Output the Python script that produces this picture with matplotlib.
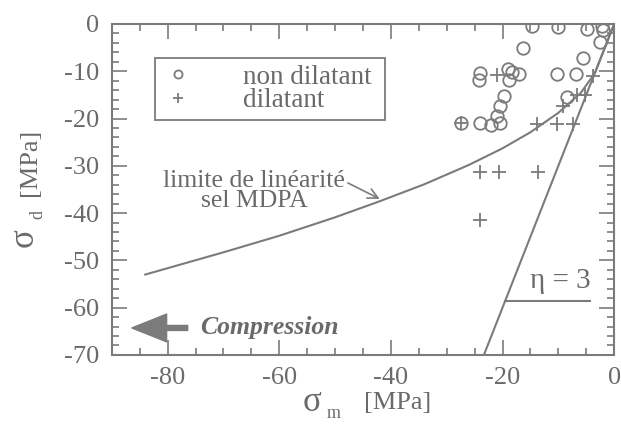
import matplotlib
matplotlib.use("Agg")
import matplotlib.pyplot as plt
import numpy as np
from matplotlib.ticker import MultipleLocator

plt.rcParams['font.family'] = ['Liberation Serif', 'DejaVu Serif']
plt.rcParams['axes.unicode_minus'] = False

gray = '#7b7b7b'
tgray = '#6a6a6a'

# non dilatant (circles)
nd_sm = [-14.7, -10.0, -4.9, -2.2, -2.0, -2.5, -16.4, -5.6, -24.0, -24.3, -19.1, -18.3,
         -17.0, -18.8, -10.2, -6.9, -8.4, -19.7, -20.4, -21.0, -24.1, -22.1, -20.4, -27.5]
nd_sd = [-0.4, -0.7, -1.0, -0.4, -1.3, -3.9, -5.1, -7.2, -10.4, -11.8, -9.6, -10.1,
         -10.5, -11.8, -10.5, -10.5, -15.5, -15.3, -17.4, -19.4, -21.0, -21.3, -21.0, -21.0]

# dilatant (plus)
d_sm = [-21.0, -3.8, -6.7, -5.2, -9.1, -13.9, -10.3, -7.3, -27.5, -24.0, -20.7, -13.7, -24.0]
d_sd = [-10.8, -11.0, -15.0, -15.0, -17.4, -21.1, -21.1, -21.1, -21.0, -31.4, -31.4, -31.4, -41.5]

# limite de linearite sel MDPA
lim_sm = [-84, -70, -60, -50, -42, -34, -26, -20, -15, -10, -6, -3.5, 0]
lim_sd = [-53, -48.3, -44.8, -40.9, -37.5, -33.9, -29.8, -26.3, -22.9, -18.8, -14.6, -10.5, 0]

# eta = 3 line
eta = 3
eta_sm = np.array([-70 / eta, 0])

fig = plt.figure(figsize=(6.21, 4.36), dpi=100)
ax = fig.add_axes([0.180, 0.186, 0.809, 0.759])

ax.plot(lim_sm, lim_sd, color=gray, lw=1.5)
ax.plot(eta_sm, eta * eta_sm, color=gray, lw=1.5)
ax.plot([-19.5, -4.3], [-58.5, -58.5], color=gray, lw=1.5)
ax.text(-9.6, -54.3, 'η = 3', fontsize=21, color=tgray, ha='center', va='center')

ax.plot(nd_sm, nd_sd, 'o', ms=9, mfc='none', mec=gray, mew=1.3, label='non dilatant ')
ax.plot(d_sm, d_sd, '+', ms=10, color=gray, mew=1.3, label='dilatant')

leg = ax.legend(loc='upper left', bbox_to_anchor=(0.086, 0.897), borderaxespad=0,
                fontsize=19.5, handletextpad=1.8, handlelength=1.2, labelspacing=-0.05,
                fancybox=False, framealpha=1, markerscale=0.65, borderpad=0.25)
leg.get_frame().set_edgecolor(gray)
leg.get_frame().set_linewidth(1.3)
for t in leg.get_texts():
    t.set_color(tgray)

ax.annotate('limite de linéarité\nsel MDPA', xy=(-42.0, -37.0), xytext=(-64.5, -35.3),
            fontsize=18.5, color=tgray, ha='center', va='center', linespacing=0.9,
            arrowprops=dict(arrowstyle='->', color=gray, lw=1.2, mutation_scale=18,
                            shrinkA=0, shrinkB=0, relpos=(1.0, 0.72)))

ax.annotate('', xy=(-86.4, -64.3), xytext=(-76.4, -64.3),
            arrowprops=dict(arrowstyle='simple,head_length=1.25,head_width=1.0,tail_width=0.18',
                            color=gray, mutation_scale=20, shrinkA=0, shrinkB=0))
ax.text(-74.2, -64.3, 'Compression', fontsize=18.5, color=tgray, style='italic',
        weight='bold', ha='left', va='center')

ax.set_xlim(-90, 0)
ax.set_ylim(-70, 0)
ax.xaxis.set_major_locator(MultipleLocator(20))
ax.xaxis.set_minor_locator(MultipleLocator(5))
ax.yaxis.set_major_locator(MultipleLocator(10))
ax.yaxis.set_minor_locator(MultipleLocator(2))
ax.tick_params(which='both', direction='in', top=True, right=True, colors=gray,
               labelcolor=tgray, labelsize=19, width=1.2)
ax.tick_params(which='major', length=11, pad=9)
ax.tick_params(which='minor', length=5)
for s in ax.spines.values():
    s.set_color(gray)
    s.set_linewidth(1.5)

# axis labels: large sigma, small spaced subscript, then unit
lab = dict(transform=ax.transAxes, color=tgray, ha='center', va='center', clip_on=False)
ax.text(0.398, -0.145, 'σ', fontsize=25, **lab)
ax.text(0.442, -0.178, 'm', fontsize=13, **lab)
ax.text(0.568, -0.145, '[MPa]', fontsize=19, **lab)
ax.text(-0.175, 0.353, 'σ', fontsize=25, rotation=90, **lab)
ax.text(-0.147, 0.423, 'd', fontsize=13, rotation=90, **lab)
ax.text(-0.163, 0.583, '[MPa]', fontsize=19, rotation=90, **lab)

fig.savefig('out.png', dpi=100)
